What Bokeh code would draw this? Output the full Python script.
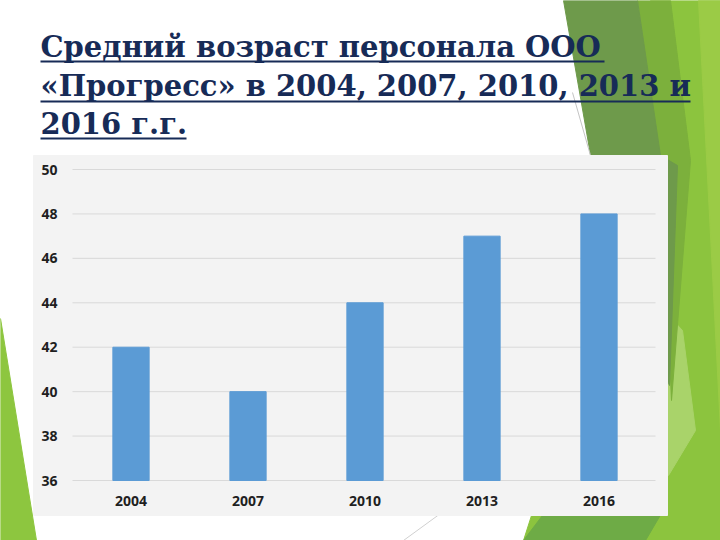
from bokeh.plotting import figure
from bokeh.models import Range1d
from bokeh.core.properties import value
from bokeh.embed import file_html
from bokeh.resources import INLINE

# chart data
years = ["2004", "2007", "2010", "2013", "2016"]
ages = [42, 40, 44, 47, 48]
y_ticks = [36, 38, 40, 42, 44, 46, 48, 50]

title_lines = ["Средний возраст персонала ООО",
               "«Прогресс» в 2004, 2007, 2010, 2013 и",
               "2016 г.г."]

# slide is drawn in pixel coords; the chart plot area sits at x 72..657, y 169..480
W, H = 720, 540
PX_L, PX_R, PX_TOP, PX_BOT = 72, 657, 169, 480
Y_MIN, Y_MAX = 36, 50

band = (PX_R - PX_L) / len(years)
ppu = (PX_BOT - PX_TOP) / (Y_MAX - Y_MIN)

p = figure(width=W, height=H, x_range=Range1d(0, W), y_range=Range1d(H, 0),
           output_backend="svg", toolbar_location=None, min_border=0,
           x_axis_type=None, y_axis_type=None)
p.grid.visible = False
p.outline_line_color = None
p.background_fill_color = "white"
p.extra_x_ranges = {"bars": Range1d(-PX_L / band, (W - PX_L) / band)}
p.extra_y_ranges = {"val": Range1d(Y_MIN - (H - PX_BOT) / ppu, Y_MIN + PX_BOT / ppu)}

# green facets of the slide
p.patch([0, 36, 0], [318, 540, 540], color="#8dc63f")
p.patch([650, 720, 720, 523, 600], [0, 0, 540, 540, 300], color="#8cc43e")
p.patch([698, 720, 720], [0, 0, 430], color="#9bcb46")
p.patch([668, 682, 695, 668], [315, 330, 430, 475], color="#a9d36a")
p.patch([637, 670, 690, 671, 660], [0, 0, 160, 400, 160], color="#7cb03c")
p.patch([563, 637, 660, 677, 669, 598], [0, 0, 155, 165, 385, 200], color="#6e9a4b")
p.patch([545, 662, 645, 523], [511, 511, 540, 540], color="#6eab46")
p.line([403, 440], [540, 513], color="#d0d0d0", line_width=1)
p.line([572, 590], [92, 155], color="#c4c4c4", line_width=1)

# title with underlines (svg text sits ~10px low with an alphabetic baseline)
p.text(x=[40, 40, 40], y=[46, 85, 123], text=title_lines,
       text_font=value("DejaVu Serif"), text_font_style="bold",
       text_font_size="29px", text_color="#172b57", text_baseline="alphabetic")
p.segment(x0=[40, 40, 40], y0=[61, 101, 138], x1=[604, 690, 186], y1=[61, 101, 138],
          line_color="#172b57", line_width=2)

# chart box
p.quad(left=[33], right=[667], top=[155], bottom=[515], color="#f3f3f3")

# gridlines and value labels
p.segment(x0=PX_L, x1=PX_R - 2, y0=y_ticks, y1=y_ticks, y_range_name="val",
          line_color="#d9d9d9", line_width=1)
p.text(x=57, y=y_ticks, text=[str(t) for t in y_ticks], y_range_name="val",
       text_align="right", text_baseline="middle", text_font=value("Open Sans"),
       text_font_style="bold", text_font_size="14px", text_color="#1f1f1f")

# bars and category labels
xpos = [i + 0.5 for i in range(len(years))]
p.vbar(x=xpos, top=ages, bottom=Y_MIN, width=0.31, color="#5b9bd5",
       x_range_name="bars", y_range_name="val")
p.text(x=xpos, y=500, text=years, x_range_name="bars",
       text_align="center", text_baseline="middle", text_font=value("Open Sans"),
       text_font_style="bold", text_font_size="14px", text_color="#1f1f1f")

open("out.html", "w").write(file_html(p, INLINE))
